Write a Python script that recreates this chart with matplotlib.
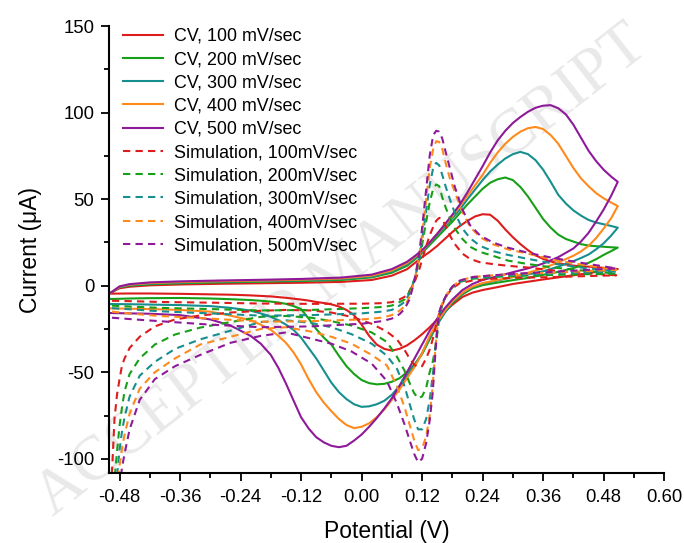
import numpy as np
import matplotlib
matplotlib.use("Agg")
import matplotlib.pyplot as plt
from matplotlib.ticker import MultipleLocator

plt.rcParams['font.family'] = ['Liberation Sans', 'DejaVu Sans']
plt.rcParams['axes.unicode_minus'] = False

rates = [100, 200, 300, 400, 500]
colors = ['#dd1c1c', '#17a017', '#178f8f', '#ff8a1c', '#8e1a9a']

# --- measured CV, forward (anodic) scan ---
cv_fwd_x = [-0.497, -0.48, -0.46, -0.42, -0.36, -0.28, -0.2, -0.12, -0.04, 0.02, 0.06,
            0.09, 0.105, 0.12, 0.135, 0.15, 0.165, 0.18, 0.195, 0.21, 0.225, 0.24, 0.255,
            0.27, 0.285, 0.30, 0.315, 0.33, 0.345, 0.36, 0.375, 0.39, 0.405, 0.42, 0.435,
            0.45, 0.465, 0.48, 0.495, 0.508]
cv_fwd_100 = [-4.0, -1.5, -0.6, 0.2, 0.7, 1.1, 1.4, 1.7, 2.2, 3.3, 5.8,
              9.5, 13, 16.5, 19.5, 23, 27, 31, 34.5, 37.5, 40, 41.3, 41,
              37.5, 32.5, 28, 24, 20.5, 17.5, 15.5, 14, 13, 12.2, 11.6, 11.2,
              11, 10.7, 10.3, 10, 9.6]
cv_fwd_200 = [-4.0, -1.0, 0.0, 0.8, 1.4, 1.9, 2.3, 2.7, 3.3, 4.8, 7.5,
              11.5, 15, 19, 23.5, 28, 32.5, 37, 42, 47, 51.5, 56, 59.5,
              61.5, 62.5, 61, 57, 51.5, 45, 38.5, 33.5, 29.5, 27, 25.5, 24,
              23.2, 22.8, 22.5, 22.2, 22]
cv_fwd_300 = [-4.0, -0.8, 0.3, 1.2, 1.8, 2.3, 2.7, 3.1, 3.8, 5.3, 8.2,
              12.3, 15.8, 19.5, 24.5, 29.5, 34, 39, 44, 50, 55.5, 61, 66,
              70, 73.5, 76, 77.3, 76, 72.5, 67, 60, 52.5, 47.5, 43.5, 40.5,
              38, 36.5, 35.5, 34.5, 33.5]
cv_fwd_400 = [-4.0, -0.6, 0.6, 1.5, 2.1, 2.6, 3.0, 3.5, 4.2, 5.8, 8.8,
              13, 16.5, 20, 25, 30, 35, 40, 46, 52, 58, 64, 71,
              77, 82, 86, 89, 91, 91.7, 90.5, 87, 82, 75, 68, 62,
              57.5, 53.5, 50.5, 48, 46]
cv_fwd_500 = [-4.0, -0.4, 0.9, 1.9, 2.5, 3.0, 3.4, 3.9, 4.7, 6.4, 9.6,
              13.8, 17, 20.5, 25, 30, 35.5, 41, 47, 54, 61.5, 69, 77,
              84, 89.5, 94, 97.5, 100.5, 102.8, 104, 104.3, 102.5, 99, 93, 85.5,
              78, 72, 67, 63, 60]

# --- measured CV, reverse (cathodic) scan ---
cv_rev_x = [0.508, 0.495, 0.48, 0.465, 0.45, 0.435, 0.42, 0.39, 0.36, 0.33, 0.30, 0.27,
            0.24, 0.22, 0.2, 0.18, 0.165, 0.15, 0.135, 0.12, 0.105, 0.09, 0.075, 0.06,
            0.045, 0.03, 0.015, 0.0, -0.015, -0.03, -0.045, -0.06, -0.075, -0.09, -0.105,
            -0.12, -0.135, -0.15, -0.165, -0.18, -0.2, -0.22, -0.26, -0.3, -0.36, -0.42,
            -0.46, -0.497]
cv_rev_100 = [9.6, 9.2, 8.7, 8, 7.2, 6.6, 6.0, 4.8, 3.6, 2.3, 1.0, -0.8,
              -2.5, -4, -6.5, -11, -15, -19.5, -24, -28, -31.5, -34.5, -36.5, -37.5,
              -36.5, -34, -29, -22.5, -17, -14, -12, -10.8, -10, -9.4, -8.6,
              -8, -7.5, -7, -6.6, -6.2, -5.9, -5.6, -5.2, -5.0, -4.7, -4.5,
              -4.5, -4.6]
cv_rev_200 = [22, 20, 17.8, 15.3, 13.2, 11.5, 10.2, 8, 6.3, 4.5, 3.2, 1.8,
              0.3, -1.5, -5, -10, -15.5, -22.5, -31, -39.5, -45.5, -50, -53.5, -55.5,
              -56.7, -57, -56.3, -54.5, -51, -46.5, -40.5, -34, -30, -25, -19,
              -13.5, -11.8, -10.5, -9.7, -9.2, -8.7, -8.3, -7.8, -7.4, -7.1, -7.2,
              -7.4, -7.7]
cv_rev_300 = [33.5, 29, 24.5, 21, 18, 16, 14.2, 11, 8.3, 6.5, 5, 3,
              1.2, -0.8, -4.5, -9.5, -15.5, -22, -30, -39, -46, -52, -58, -63,
              -66.5, -68.5, -69.7, -70, -68.5, -65.5, -61.5, -56, -49, -42, -36,
              -30, -25.5, -22.5, -20, -18, -16, -14.4, -12.8, -11.8, -11.2, -10.9,
              -10.7, -10.6]
cv_rev_400 = [46, 39, 33, 27.5, 23, 19.8, 17.3, 13.5, 10, 7.5, 5, 3.3,
              1.5, -0.5, -4, -9, -14.5, -21, -29, -39, -47, -53.5, -60, -66,
              -71.5, -76, -79.5, -81.5, -82.3, -80.5, -77, -72.5, -67.5, -61.5, -54,
              -45.5, -38.5, -33, -29, -25.5, -22.5, -20, -17.3, -15, -14, -13.5,
              -13.3, -13.1]
cv_rev_500 = [60, 52, 44, 37, 30.5, 25.5, 21.5, 16.5, 12.8, 10, 7.8, 5.5,
              3.3, 1, -2.5, -8, -13, -19, -26, -34, -42, -50, -58, -65,
              -71, -76.5, -81.5, -86, -89.5, -92.5, -93.3, -92.5, -90.5, -87.5, -82.5,
              -76, -66.3, -56.5, -47.5, -40, -33.5, -29, -23, -19.5, -17, -16.2,
              -16, -15.8]

# --- simulation, forward scan ---
sim_fwd_x = [-0.495, -0.45, -0.4, -0.3, -0.2, -0.1, 0.0, 0.04, 0.06, 0.075, 0.085, 0.095,
             0.105, 0.115, 0.125, 0.135, 0.142, 0.148, 0.154, 0.16, 0.167, 0.175, 0.185,
             0.2, 0.215, 0.235, 0.26, 0.29, 0.33, 0.38, 0.44, 0.505]
sim_fwd_100 = [-8.7, -9, -9.4, -9.8, -10.3, -10.5, -10.4, -10.1, -9.5, -8, -6.5, -3,
               2, 10, 20, 29, 34, 37.5, 39.2, 38.5, 34, 29, 24,
               18.5, 15.5, 13.5, 12.5, 11.5, 10.5, 8.8, 7.3, 6]
sim_fwd_200 = [-11.5, -12.2, -12.8, -13.5, -14.3, -14, -13, -12.3, -11.5, -9.5, -8, -3.5,
               4, 15, 32, 48, 56, 58.5, 57.5, 51, 45, 39, 33,
               27, 22.5, 19.5, 17.3, 14.5, 12.5, 10.5, 8.7, 7]
sim_fwd_300 = [-13, -13.8, -14.8, -16, -17.3, -17, -16, -15, -14, -11.5, -9.5, -4.5,
               3.5, 16, 37, 58, 68, 71, 69.5, 64, 57, 50, 42,
               33, 27.5, 23, 20, 17.8, 15.5, 12.8, 10.3, 8.2]
sim_fwd_400 = [-15, -16.3, -17.5, -19, -20.8, -20.5, -19.5, -18.5, -17, -14.5, -12, -6.5,
               3, 18, 42, 68, 79, 83.5, 83, 79, 70.5, 62, 54,
               42.5, 34, 28, 24, 21, 18.5, 15, 12, 9.2]
sim_fwd_500 = [-18.5, -19.5, -20.5, -22.5, -24, -23.5, -22, -20.5, -19, -16.5, -13.5, -8,
               3, 20, 47, 75, 87, 89.5, 89, 85, 77, 68, 57,
               44, 35, 29, 25, 22, 19, 16, 13, 10]

# --- simulation, reverse scan ---
sim_rev_x = [0.505, 0.44, 0.38, 0.31, 0.26, 0.22, 0.195, 0.18, 0.17, 0.16, 0.153, 0.147,
             0.141, 0.135, 0.128, 0.12, 0.112, 0.104, 0.095, 0.085, 0.07, 0.05, 0.02, -0.02,
             -0.06, -0.1, -0.15, -0.2, -0.26, -0.32, -0.37, -0.41, -0.44, -0.46, -0.47,
             -0.475, -0.48, -0.485, -0.49, -0.495]
sim_rev_100 = [6, 5.5, 5, 4.6, 4, 3, 1.5, -1.5, -5, -11, -17, -24,
               -31, -37, -42, -46.5, -47, -45.5, -42, -37, -31, -26.5, -22, -18,
               -15.5, -14.3, -14, -14.5, -15.5, -17.2, -19.5, -23.5, -29.5, -36, -42,
               -46, -54, -63, -77, -108]
sim_rev_200 = [7, 6.6, 6.2, 5.7, 5, 4, 2.2, -1, -4.5, -10.5, -21, -35,
               -44, -50, -59, -64, -65, -62, -56, -49, -41, -32.5, -27, -23,
               -20.5, -18.5, -17.5, -18, -21, -24.2, -28.2, -34, -42, -51, -61,
               -70, -81, -96, -112, -125]
sim_rev_300 = [8.2, 7.6, 7, 6.3, 5.5, 4.5, 2.5, -0.8, -4.5, -10.5, -17, -33,
               -52, -66, -77, -83, -83, -77, -68, -58, -48, -40.4, -33.5, -28,
               -24, -21.5, -20, -21, -26, -31, -36.5, -44, -52, -64, -76,
               -84, -95, -110, -125, -140]
sim_rev_400 = [9.2, 8.3, 7.6, 6.8, 6, 5, 3, -0.5, -4.5, -10, -16, -34,
               -58, -75, -87, -94, -95, -89, -80, -70, -58, -46, -40, -33.5,
               -29.5, -26.5, -24, -25, -29.5, -34, -42, -50, -59.5, -74, -86,
               -94, -104, -118, -135, -150]
sim_rev_500 = [10, 9, 8, 7, 6, 5, 3, -0.5, -4.5, -10, -16, -36,
               -62, -78, -91, -100, -102, -97, -89, -80, -68, -55, -45, -38,
               -33.5, -30.6, -27, -29, -33, -40, -46.5, -54, -66, -83, -97,
               -105, -116, -130, -145, -160]

cv_fwd = [cv_fwd_100, cv_fwd_200, cv_fwd_300, cv_fwd_400, cv_fwd_500]
cv_rev = [cv_rev_100, cv_rev_200, cv_rev_300, cv_rev_400, cv_rev_500]
sim_fwd = [sim_fwd_100, sim_fwd_200, sim_fwd_300, sim_fwd_400, sim_fwd_500]
sim_rev = [sim_rev_100, sim_rev_200, sim_rev_300, sim_rev_400, sim_rev_500]

fig = plt.figure(figsize=(6.84, 5.43), dpi=100)
ax = fig.add_axes([0.16, 0.128, 0.811, 0.824])
ax.set_zorder(1)
ax.patch.set_alpha(0)

# faint watermark behind the plot
fig.text(0.5, 0.5, "ACCEPTED MANUSCRIPT", rotation=38, fontsize=46,
         color='#e9e9e9', family='Liberation Serif', ha='center', va='center',
         rotation_mode='anchor', zorder=0)

dash = (0, (3.5, 2.5))
for i in range(5):
    ax.plot(cv_fwd_x + cv_rev_x, cv_fwd[i] + cv_rev[i], color=colors[i], lw=1.5,
            label='CV, %d mV/sec' % rates[i])
for i in range(5):
    ax.plot(sim_fwd_x + sim_rev_x, sim_fwd[i] + sim_rev[i], color=colors[i], lw=1.5,
            ls=dash, label='Simulation, %dmV/sec' % rates[i])

ax.set_xlim(-0.5, 0.6)
ax.set_ylim(-108.5, 150)
xt = np.arange(-0.48, 0.61, 0.12)
ax.set_xticks(xt)
ax.set_xticklabels(['%.2f' % v for v in xt])
ax.xaxis.set_minor_locator(MultipleLocator(0.06))
ax.yaxis.set_major_locator(MultipleLocator(50))
ax.yaxis.set_minor_locator(MultipleLocator(25))
ax.tick_params(which='major', length=6, width=1.3, labelsize=13.3, direction='out', pad=5)
ax.tick_params(which='minor', length=3.5, width=1.3, direction='out')

for s in ['top', 'right']:
    ax.spines[s].set_visible(False)
for s in ['left', 'bottom']:
    ax.spines[s].set_linewidth(1.5)

ax.set_xlabel('Potential (V)', fontsize=16.5, labelpad=10)
ax.set_ylabel('Current (μA)', fontsize=16.5, labelpad=11)

ax.legend(loc='upper left', bbox_to_anchor=(0.0215, 1.0), frameon=False, fontsize=12.9,
          handlelength=2.25, handletextpad=0.6, labelspacing=0.35, borderaxespad=0,
          borderpad=0.1)

fig.savefig('out.png', dpi=100)
